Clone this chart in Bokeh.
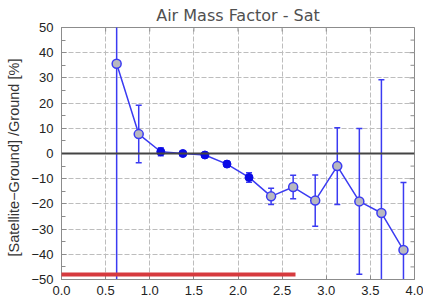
import math
from bokeh.plotting import figure
from bokeh.models import (Range1d, SingleIntervalTicker, FixedTicker,
                          Span, BoxAnnotation, CustomJSTickFormatter, ColumnDataSource)
from bokeh.embed import file_html
from bokeh.resources import INLINE

# ---- data ----
amf = [0.625, 0.875, 1.125, 1.375, 1.625, 1.875, 2.125,
       2.375, 2.625, 2.875, 3.125, 3.375, 3.625, 3.875]
bias = [35.6, 7.7, 0.7, 0.0, -0.6, -4.2, -9.5,
        -17.0, -13.3, -18.7, -5.0, -19.0, -23.6, -38.3]
err = [90.0, 11.4, 1.6, 0.5, 0.5, 1.0, 1.9,
       3.2, 4.7, 10.2, 15.2, 28.9, 52.9, 26.8]
significant = [False, False, True, True, True, True, True,
               False, False, False, False, False, False, False]
x_ticks = [0.0, 0.5, 1.0, 1.5, 2.0, 2.5, 3.0, 3.5, 4.0]
y_ticks = [-50, -40, -30, -20, -10, 0, 10, 20, 30, 40, 50]
y_minor = [-45, -35, -25, -15, -5, 5, 15, 25, 35, 45]
x_min, x_max = 0.0, 4.0
y_min, y_max = -50, 50

BLUE = "#3b3bf2"
DARKBLUE = "#0a0ae6"
GRID = "#bdbdbd"
AXIS = "#8c8c8c"
FONT = "Liberation Sans"

lo = [b - e for b, e in zip(bias, err)]
hi = [b + e for b, e in zip(bias, err)]
src = ColumnDataSource(dict(x=amf, y=bias, lo=lo, hi=hi))
sx = [x for x, s in zip(amf, significant) if s]
sy = [y for y, s in zip(bias, significant) if s]
gx = [x for x, s in zip(amf, significant) if not s]
gy = [y for y, s in zip(bias, significant) if not s]

p = figure(width=423, height=302, output_backend="svg", toolbar_location=None,
           x_range=Range1d(x_min, x_max), y_range=Range1d(y_min, y_max),
           min_border_left=61, min_border_right=9, min_border_top=27,
           min_border_bottom=23, background_fill_color="white",
           border_fill_color="white")

p.title.text = "Air Mass Factor - Sat"
p.title.align = "center"
p.title.text_font = "DejaVu Sans"
p.title.text_font_style = "normal"
p.title.text_font_size = "16px"
p.title.text_color = "#505050"
p.title.standoff = 5
p.title.offset = -4

p.outline_line_color = AXIS
p.outline_line_width = 1

# grid
p.xgrid.ticker = FixedTicker(ticks=x_ticks)
p.ygrid.ticker = FixedTicker(ticks=y_ticks)
for g in (p.xgrid[0], p.ygrid[0]):
    g.grid_line_color = GRID
    g.grid_line_dash = "5 2"
    g.grid_line_width = 1

# x axis
xa = p.xaxis[0]
xa.ticker = FixedTicker(ticks=x_ticks)
xa.formatter = CustomJSTickFormatter(code="return tick.toFixed(1);")
xa.major_tick_in = 4
xa.major_tick_out = 0
xa.minor_tick_in = 0
xa.minor_tick_out = 0
xa.major_tick_line_color = AXIS
xa.axis_line_color = AXIS
xa.major_label_standoff = 6
xa.major_label_text_font = FONT
xa.major_label_text_font_size = "13px"
xa.major_label_text_color = "#222222"

# y axis
ya = p.yaxis[0]
ya.ticker = SingleIntervalTicker(interval=10, num_minor_ticks=2)
ya.formatter = CustomJSTickFormatter(code="""
return tick < 0 ? "\u2212" + Math.abs(tick).toFixed(0) : tick.toFixed(0);
""")
ya.major_tick_in = 5
ya.major_tick_out = 0
ya.minor_tick_in = 4
ya.minor_tick_out = 0
ya.major_tick_line_color = AXIS
ya.minor_tick_line_color = AXIS
ya.axis_line_color = AXIS
ya.major_label_standoff = 8
ya.major_label_text_font = FONT
ya.major_label_text_font_size = "13px"
ya.major_label_text_color = "#222222"
ya.axis_label = "[Satellite\u2212Ground] /Ground   [%]"
ya.axis_label_text_font = FONT
ya.axis_label_text_font_size = "14.5px"
ya.axis_label_text_font_style = "normal"
ya.axis_label_text_color = "#333333"
ya.axis_label_standoff = 6

# inner ticks on the right and top edges (dash markers half clipped by the frame)
p.scatter([x_max] * len(y_ticks), y_ticks, marker="dash", size=10,
          line_color=AXIS, line_width=1)
p.scatter([x_max] * len(y_minor), y_minor, marker="dash", size=8,
          line_color=AXIS, line_width=1)
p.scatter(x_ticks, [y_max] * len(x_ticks), marker="dash", size=8, angle=math.pi / 2,
          line_color=AXIS, line_width=1)

# zero line
p.add_layout(Span(location=0, dimension="width", line_color="#444444", line_width=2))

# error bars
p.segment(x0="x", y0="lo", x1="x", y1="hi", source=src, line_color=BLUE, line_width=1.5)
p.scatter(x="x", y="lo", source=src, marker="dash", size=6, line_color=BLUE, line_width=1.5)
p.scatter(x="x", y="hi", source=src, marker="dash", size=6, line_color=BLUE, line_width=1.5)

# connecting line
p.line(x="x", y="y", source=src, line_color=BLUE, line_width=1.5)

# markers
p.scatter(gx, gy, marker="circle", size=9, fill_color="#b8b8c0", line_color=BLUE, line_width=1.5)
p.scatter(sx, sy, marker="circle", size=8, fill_color=DARKBLUE, line_color=DARKBLUE, line_width=1)

# red overlay bar present in the reference image
p.add_layout(BoxAnnotation(left=0, right=295, top=272, bottom=276,
                           left_units="canvas", right_units="canvas",
                           top_units="canvas", bottom_units="canvas",
                           fill_color="#d63a3e", fill_alpha=1, line_alpha=0,
                           level="overlay"))

open("out.html", "w").write(file_html(p, INLINE))
